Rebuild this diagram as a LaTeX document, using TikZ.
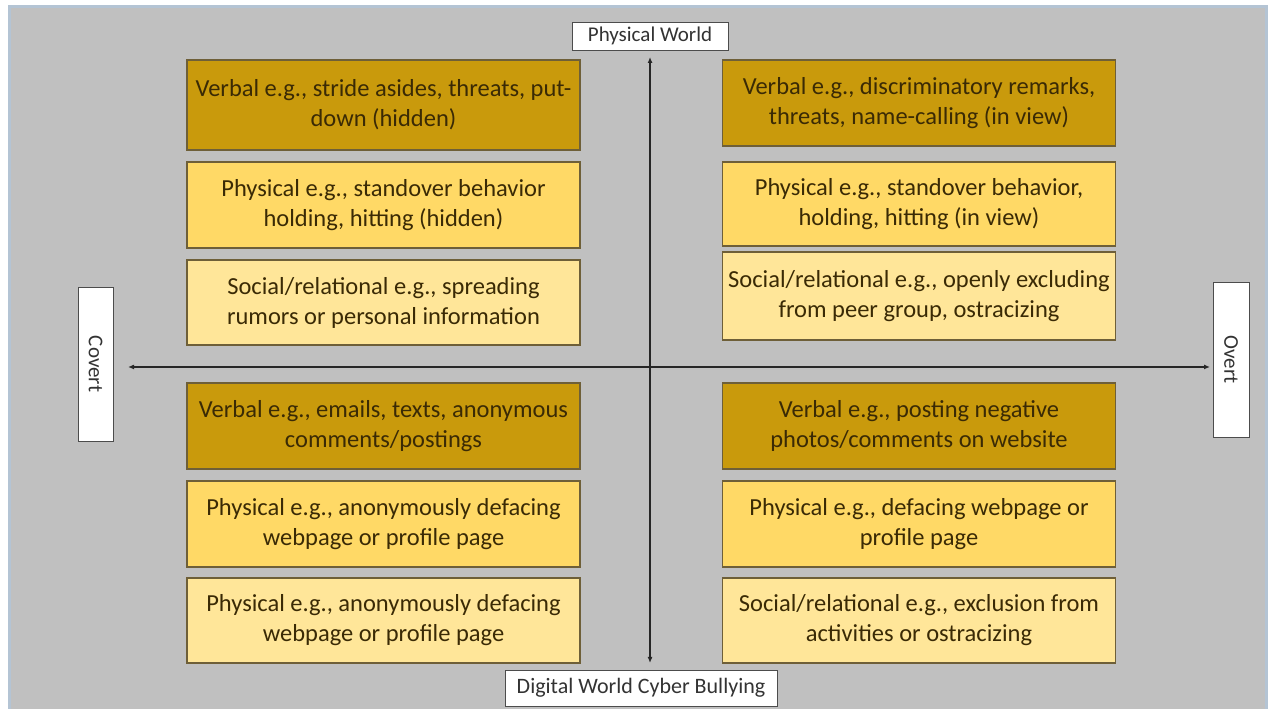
\documentclass[tikz,border=0pt]{standalone}
\usepackage{fontspec}
\setmainfont{Carlito}
\usetikzlibrary{arrows.meta}
\definecolor{bggray}{HTML}{C0C0C0}
\definecolor{edgeblue}{HTML}{B4C4D4}
\definecolor{darkgold}{HTML}{C99A0C}
\definecolor{midgold}{HTML}{FFD966}
\definecolor{lightgold}{HTML}{FFE699}
\definecolor{boxedge}{HTML}{6E5F38}
\definecolor{txtbrown}{HTML}{3A2A05}
\tikzset{
  cat/.style={draw=boxedge, line width=1.3pt, rectangle, minimum width=393pt, align=center,
    text=txtbrown, font=\fontsize{24.5}{30}\selectfont, inner sep=0pt},
  dk/.style={cat, fill=darkgold},
  md/.style={cat, fill=midgold},
  lt/.style={cat, fill=lightgold},
  lab/.style={draw=black!70, line width=0.8pt, fill=white, rectangle, inner sep=0pt,
    text=black!80, font=\fontsize{21}{24}\selectfont},
  axis/.style={line width=1.3pt, black!85, {Latex[length=6pt,width=5pt]}-{Latex[length=6pt,width=5pt]}}
}
\begin{document}
\begin{tikzpicture}[x=1pt,y=1pt]
\useasboundingbox (0,0) rectangle (1268,711);
\fill[white] (0,0) rectangle (1268,711);
\fill[edgeblue] (8,2) rectangle (1268,706);
\fill[bggray] (11,2) rectangle (1265,703);
% top-left
\node[dk, minimum height=90pt] (tl1) at (383.5,606) {Verbal e.g., stride asides, threats, put-\\down (hidden)};
\node[md, minimum height=86pt] (tl2) at (383.5,506) {Physical e.g., standover behavior\\holding, hitting (hidden)};
\node[lt, minimum height=85pt] (tl3) at (383.5,408.5) {Social/relational e.g., spreading\\rumors or personal information};
% top-right
\node[dk, minimum height=86pt] (tr1) at (919,608) {Verbal e.g., discriminatory remarks,\\threats, name-calling (in view)};
\node[md, minimum height=84pt] (tr2) at (919,507) {Physical e.g., standover behavior,\\holding, hitting (in view)};
\node[lt, minimum height=88pt] (tr3) at (919,415) {Social/relational e.g., openly excluding\\from peer group, ostracizing};
% bottom-left
\node[dk, minimum height=86pt] (bl1) at (383.5,285) {Verbal e.g., emails, texts, anonymous\\comments/postings};
\node[md, minimum height=86pt] (bl2) at (383.5,187) {Physical e.g., anonymously defacing\\webpage or profile page};
\node[lt, minimum height=85pt] (bl3) at (383.5,90.5) {Physical e.g., anonymously defacing\\webpage or profile page};
% bottom-right
\node[dk, minimum height=86pt] (br1) at (919,285) {Verbal e.g., posting negative\\photos/comments on website};
\node[md, minimum height=86pt] (br2) at (919,187) {Physical e.g., defacing webpage or\\profile page};
\node[lt, minimum height=85pt] (br3) at (919,90.5) {Social/relational e.g., exclusion from\\activities or ostracizing};
% axis labels
\node[lab, minimum width=156pt, minimum height=28pt] (pw) at (650,675) {Physical World};
\node[lab, minimum width=272pt, minimum height=36pt, font=\fontsize{22}{24}\selectfont] (dw) at (641,23) {Digital World Cyber Bullying};
\node[lab, minimum width=35pt, minimum height=154pt] (cv) at (95.5,347) {};
\node[rotate=-90, text=black!80, font=\fontsize{21}{24}\selectfont] at (cv.center) {Covert};
\node[lab, minimum width=36pt, minimum height=155pt] (ov) at (1231,351.5) {};
\node[rotate=-90, text=black!80, font=\fontsize{21}{24}\selectfont] at (ov.center) {Overt};
% axes
\coordinate (vt) at (650,654);
\coordinate (vb) at (650,48);
\coordinate (hl) at (128,344);
\coordinate (hr) at (1210,344);
\draw[axis] (vt) -- (vb);
\draw[axis] (hl) -- (hr);
\end{tikzpicture}
\end{document}
